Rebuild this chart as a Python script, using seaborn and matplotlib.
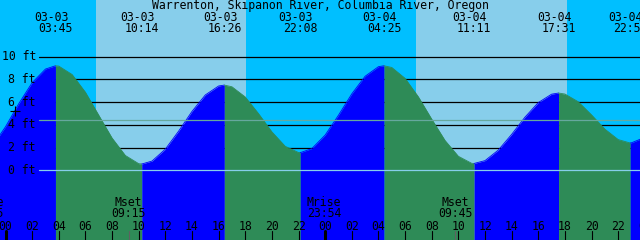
import numpy as np
import pandas as pd
import seaborn as sns
import matplotlib.pyplot as plt
from matplotlib.transforms import blended_transform_factory

# Tide heights (ft), hours counted from 03-03 00:00
tide_hours = [-2.5, -1, 0, 1, 2, 3, 3.75, 4, 5, 6, 7, 8, 9, 10, 10.23,
              11, 12, 13, 14, 15, 16, 16.43, 17, 18, 19, 20, 21, 22, 22.13,
              23, 24, 25, 26, 27, 28, 28.42, 29, 30, 31, 32, 33, 34, 35, 35.18,
              36, 37, 38, 39, 40, 41, 41.52, 42, 43, 44, 45, 46, 46.9, 47, 48]
tide_feet = [1.0, 2.11, 3.83, 5.87, 7.71, 8.91, 9.2, 9.17, 8.43, 6.87, 4.85, 2.84, 1.30, 0.58, 0.55,
             0.81, 1.86, 3.45, 5.18, 6.63, 7.42, 7.5, 7.35, 6.45, 4.98, 3.38, 2.11, 1.56, 1.55,
             1.91, 3.10, 4.85, 6.73, 8.28, 9.12, 9.2, 9.05, 8.09, 6.46, 4.50, 2.62, 1.23, 0.61, 0.6,
             0.85, 1.78, 3.16, 4.68, 5.96, 6.70, 6.8, 6.71, 6.03, 4.87, 3.62, 2.70, 2.4, 2.42, 2.9]

# High / low labels along the top
extreme_hours = [3.75, 10.23, 16.43, 22.13, 28.42, 35.18, 41.52, 46.9]
extreme_dates = ['03-03', '03-03', '03-03', '03-03', '03-04', '03-04', '03-04', '03-04']
extreme_times = ['03:45', '10:14', '16:26', '22:08', '04:25', '11:11', '17:31', '22:54']

# sunrise, sunset, sunrise, sunset
sun_hours = [6.79, 18.06, 30.82, 42.15]

# moon rise / set
moon_hours = [-1.42, 9.25, 23.9, 33.75]
moon_names = ['Mrise', 'Mset', 'Mrise', 'Mset']
moon_times = ['22:35', '09:15', '23:54', '09:45']

ft_levels = [0, 2, 4, 6, 8, 10]
mean_level = 4.4
now_hour, now_feet = 0.70, 5.25

title = 'Warrenton, Skipanon River, Columbia River, Oregon'

sns.set_theme(style='white')
plt.rcParams['font.family'] = ['DejaVu Sans Mono']
fs = 8.3

fig = plt.figure(figsize=(6.4, 2.4), dpi=100)
ax = fig.add_axes([0, 0, 1, 1])
x0, x1 = -0.413, 47.635
y0, y1 = -6.14, 14.99
ax.set_xlim(x0, x1)
ax.set_ylim(y0, y1)
ax.axis('off')

# day / night background
night = '#00BFFF'
day = '#87CEEB'
ax.axvspan(x0, sun_hours[0], color=night, lw=0, zorder=0)
ax.axvspan(sun_hours[0], sun_hours[1], color=day, lw=0, zorder=0)
ax.axvspan(sun_hours[1], sun_hours[2], color=night, lw=0, zorder=0)
ax.axvspan(sun_hours[2], sun_hours[3], color=day, lw=0, zorder=0)
ax.axvspan(sun_hours[3], x1, color=night, lw=0, zorder=0)

# foot lines (behind the tide)
for ft in ft_levels:
    ax.axhline(ft, xmin=39 / 640, color='black', lw=0.9, zorder=1)

# tide fill: blue while rising, green while falling
df = pd.DataFrame({'hour': tide_hours, 'feet': tide_feet})
rising = np.diff(df['feet'].values) > 0
start = 0
for i in range(1, len(rising) + 1):
    if i == len(rising) or rising[i] != rising[start]:
        seg = df.iloc[start:i + 1]
        col = '#0000FF' if rising[start] else '#2E8B57'
        ax.fill_between(seg['hour'], y0, seg['feet'], color=col, lw=0, zorder=2)
        sns.lineplot(data=seg, x='hour', y='feet', color=col, lw=0.6, ax=ax, zorder=2)
        start = i

# mean level and datum lines on top
ax.axhline(mean_level, xmin=39 / 640, color='#66a89e', lw=0.9, zorder=3)
ax.axhline(0, xmin=39 / 640, color='#87CEEB', lw=0.9, zorder=3)

# current time marker
ax.plot([now_hour], [now_feet], marker='+', ms=7, mew=0.8, color='black', zorder=4)

# foot labels
trans_ft = blended_transform_factory(ax.transAxes, ax.transData)
for ft in ft_levels:
    ax.text(36 / 640, ft, f'{ft} ft', transform=trans_ft, ha='right', va='center',
            fontsize=fs, color='black', zorder=5)

trans = blended_transform_factory(ax.transData, ax.transAxes)

# title and high/low labels
ax.text(0.5, 1 - 5.5 / 240, title, transform=ax.transAxes, ha='center', va='center',
        fontsize=fs, color='black', zorder=5)
for h, d, t in zip(extreme_hours, extreme_dates, extreme_times):
    ax.text(h - 0.33, 1 - 17.5 / 240, d, transform=trans, ha='center', va='center',
            fontsize=fs, color='black', zorder=5)
    ax.text(h, 1 - 29 / 240, t, transform=trans, ha='center', va='center',
            fontsize=fs, color='black', zorder=5)

# moon labels and ticks
for h, n, t in zip(moon_hours, moon_names, moon_times):
    ax.text(h, 1 - 202 / 240, n, transform=trans, ha='center', va='center',
            fontsize=fs, color='black', zorder=5)
    ax.text(h, 1 - 213.5 / 240, t, transform=trans, ha='center', va='center',
            fontsize=fs, color='black', zorder=5)
    ax.axvline(h, ymin=0, ymax=9 / 240, color='#606060', lw=0.8, zorder=5)

# hour ticks along the bottom
for h in range(0, 50, 2):
    ax.text(h, 1 - 226 / 240, f'{h % 24:02d}', transform=trans, ha='center', va='center',
            fontsize=fs, color='black', zorder=5)
    ax.axvline(h, ymin=0, ymax=9 / 240, color='black',
               lw=2.2 if h % 24 == 0 else 0.8, zorder=5)

fig.savefig('out.png', dpi=100)
